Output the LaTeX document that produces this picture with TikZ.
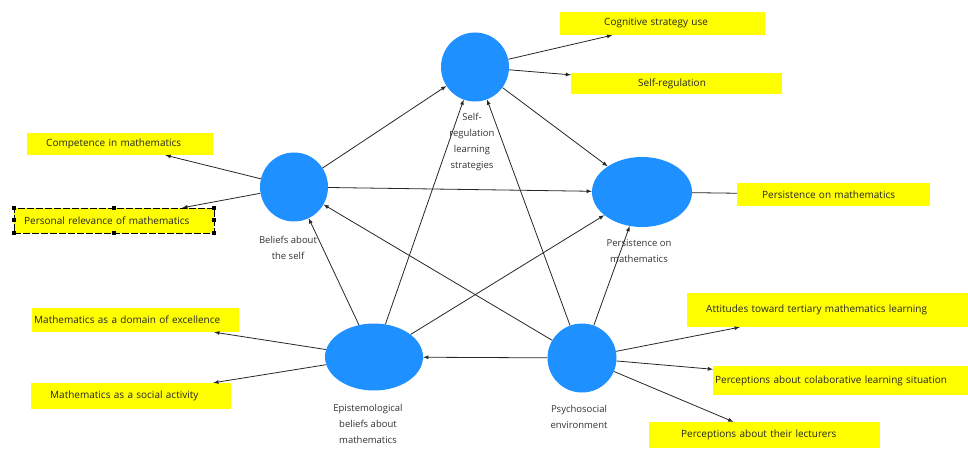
\documentclass[tikz,border=0pt]{standalone}
\usepackage{fontspec}
\setmainfont{Open Sans}
\usetikzlibrary{arrows}
\usetikzlibrary{shapes.geometric}
\definecolor{BleuBulle}{RGB}{30,144,255}
\definecolor{JauneIndicateur}{RGB}{255,255,0}
\tikzstyle{bulle}      =[ellipse, fill=BleuBulle, inner sep=0pt]
\tikzstyle{indicateur} =[rectangle, fill=JauneIndicateur, anchor=west, align=left, inner ysep=0pt, font=\fontsize{10}{12}\selectfont, text=black!85]
\tikzstyle{legende}    =[align=center, inner sep=0pt, font=\fontsize{9.5}{16}\selectfont, text=black!80]
\tikzstyle{fleche}     =[->, >=latex, line width=0.8pt, color=black!85]
\tikzstyle{lien}       =[line width=0.8pt, color=black!85]

\begin{document}
\begin{tikzpicture}[x=1pt,y=-1pt]
 \useasboundingbox (0,0) rectangle (968,454);
 \node[bulle, minimum width=68, minimum height=69] (strat) at (475,67) {};
 \node[bulle, minimum width=68, minimum height=69] (croy) at (294,187) {};
 \node[bulle, minimum width=100, minimum height=70] (persist) at (642,192) {};
 \node[bulle, minimum width=98, minimum height=67] (episte) at (374,357) {};
 \node[bulle, minimum width=69, minimum height=69] (psycho) at (582,358) {};
 \node[legende] (lstrat) at (472,142) {Self-\\regulation\\learning\\strategies};
 \node[legende] (lcroy) at (288,248) {Beliefs about\\the self};
 \node[legende] (lpersist) at (639,251) {Persistence on\\mathematics};
 \node[legende] (lepiste) at (368,424) {Epistemological\\beliefs about\\mathematics};
 \node[legende] (lpsycho) at (579,417) {Psychosocial\\environment};
 \node[indicateur, inner xsep=44, text width=117, minimum height=23] (cog) at (560,23.5) {Cognitive strategy use};
 \node[indicateur, inner xsep=67, text width=77, minimum height=21] (autoreg) at (571,83.5) {Self-regulation};
 \node[indicateur, inner xsep=19, text width=148, minimum height=22] (compet) at (27,144) {Competence in mathematics};
 \node[indicateur, inner xsep=10, text width=180, minimum height=25, draw=black, dash pattern=on 7pt off 2pt] (pertin) at (14,220.5) {Personal relevance of mathematics};
 \node[indicateur, inner xsep=25, text width=143, minimum height=23] (persistind) at (737,194.5) {Persistence on mathematics};
 \node[indicateur, inner xsep=2, text width=203, minimum height=24] (domaine) at (32,320) {Mathematics as a domain of excellence};
 \node[indicateur, inner xsep=19, text width=162, minimum height=26] (social) at (31,396) {Mathematics as a social activity};
 \node[indicateur, inner xsep=19, text width=243, minimum height=34] (attitudes) at (687,310) {Attitudes toward tertiary mathematics learning};
 \node[indicateur, inner xsep=2, text width=258, minimum height=29] (collab) at (713,380.5) {Perceptions about colaborative learning situation};
 \node[indicateur, inner xsep=32, text width=167, minimum height=26] (enseig) at (649,435) {Perceptions about their lecturers};
 \foreach \a in {north west,north,north east,east,south east,south,south west,west}
  \fill (pertin.\a) +(-2,-2) rectangle +(2,2);
 \draw[fleche] (strat) -- (cog);
 \draw[fleche] (strat) -- (autoreg);
 \draw[fleche] (croy) -- (compet);
 \draw[fleche] (croy) -- (pertin);
 \draw[lien] (persist) -- (persistind);
 \draw[fleche] (episte) -- (domaine);
 \draw[fleche] (episte) -- (social);
 \draw[fleche] (psycho) -- (attitudes);
 \draw[fleche] (psycho) -- (collab);
 \draw[fleche] (psycho) -- (enseig);
 \draw[fleche] (croy) -- (strat);
 \draw[fleche] (croy) -- (persist);
 \draw[fleche] (strat) -- (persist);
 \draw[fleche] (episte) -- (croy);
 \draw[fleche] (episte) -- (strat);
 \draw[fleche] (episte) -- (persist);
 \draw[fleche] (psycho) -- (episte);
 \draw[fleche] (psycho) -- (croy);
 \draw[fleche] (psycho) -- (strat);
 \draw[fleche] (psycho) -- (persist);
\end{tikzpicture}
\end{document}
